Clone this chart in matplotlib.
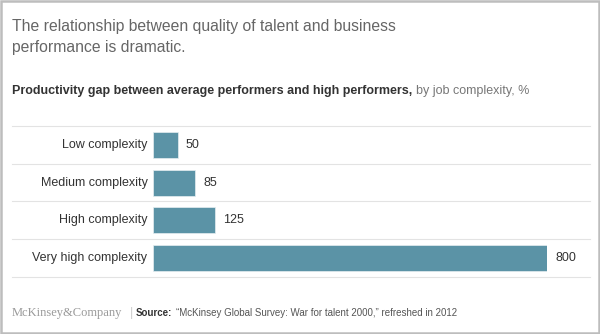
import matplotlib
matplotlib.use("Agg")
import matplotlib.pyplot as plt
import matplotlib.transforms as mtransforms
from matplotlib.patches import Rectangle

# data
categories = ["Low complexity", "Medium complexity", "High complexity", "Very high complexity"]
gap_pct = [50, 85, 125, 800]

plt.rcParams["font.family"] = ["Liberation Sans", "DejaVu Sans"]

fig = plt.figure(figsize=(6, 3.34), dpi=100)
ax = fig.add_axes([0.255, 0.1707, 0.6567, 0.4521])

bar_color = "#5b93a6"
y = list(range(len(categories)))
bars = ax.barh(y, gap_pct, height=0.69, color=bar_color, edgecolor="#e6eef1", linewidth=0.5)

ax.set_xlim(0, 800)
ax.set_ylim(len(categories) - 0.5, -0.5)
ax.axis("off")

# value labels
for b, v in zip(bars, gap_pct):
    ax.annotate(str(v), (b.get_width(), b.get_y() + b.get_height() / 2),
                xytext=(6, 0), textcoords="offset points",
                ha="left", va="center", fontsize=9, color="#333333")

# category labels
for yi, c in zip(y, categories):
    ax.annotate(c, (0, yi), xytext=(-4, 0), textcoords="offset points",
                ha="right", va="center", fontsize=9, color="#333333")

# row separator lines spanning the panel
trans = mtransforms.blended_transform_factory(fig.transFigure, ax.transData)
for yl in [i - 0.5 for i in range(len(categories) + 1)]:
    ax.plot([0.02, 0.983], [yl, yl], transform=trans, color="#e3e3e3",
            linewidth=0.8, clip_on=False, zorder=0)

# title (two lines)
fig.text(0.02, 0.907, "The relationship between quality of talent and business",
         fontsize=11.3, color="#666666", va="baseline")
fig.text(0.02, 0.844, "performance is dramatic.",
         fontsize=11.3, color="#666666", va="baseline")

# subtitle: bold part followed by normal part
sub1 = fig.text(0.02, 0.718, "Productivity gap between average performers and high performers,",
                fontsize=9, fontweight="bold", color="#333333", va="baseline")
fig.canvas.draw()
bb = sub1.get_window_extent(fig.canvas.get_renderer())
fig.text(bb.x1 / fig.bbox.width + 0.007, 0.718, "by job complexity, %",
         fontsize=9, color="#777777", va="baseline")

# footer
logo = fig.text(0.02, 0.054, "McKinsey&Company", fontsize=9, color="#9a9a9a",
                family=["Liberation Serif", "DejaVu Serif"], va="baseline")
fig.canvas.draw()
lb = logo.get_window_extent(fig.canvas.get_renderer())
xsep = lb.x1 / fig.bbox.width + 0.012
fig.text(xsep, 0.054, "|", fontsize=9, color="#cccccc", va="baseline")
src1 = fig.text(xsep + 0.011, 0.054, "Source:", fontsize=7, fontweight="bold",
                color="#333333", va="baseline")
fig.canvas.draw()
sb = src1.get_window_extent(fig.canvas.get_renderer())
fig.text(sb.x1 / fig.bbox.width + 0.005, 0.054,
         "\u201cMcKinsey Global Survey: War for talent 2000,\u201d refreshed in 2012",
         fontsize=7, color="#555555", va="baseline")

# outer border
fig.add_artist(Rectangle((0.0015, 0.003), 0.997, 0.994, transform=fig.transFigure,
                         fill=False, edgecolor="#bdbdbd", linewidth=1.8))

fig.savefig("out.png", dpi=100, facecolor="white")
